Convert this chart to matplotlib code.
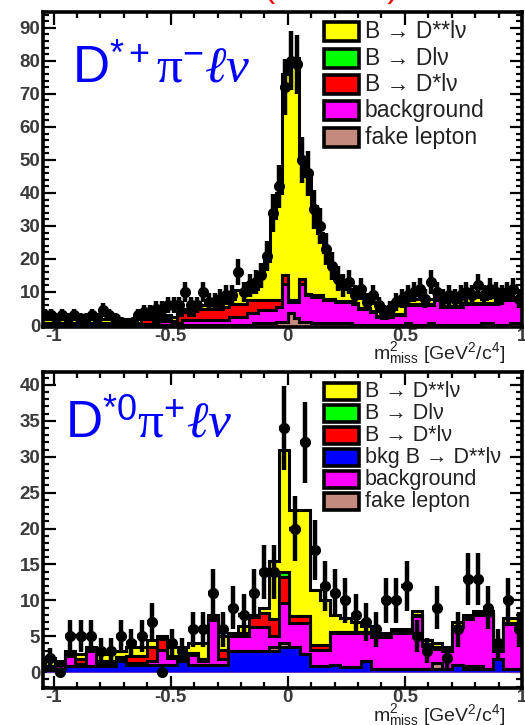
import numpy as np
import matplotlib
matplotlib.use("Agg")
import matplotlib.pyplot as plt
from matplotlib.patches import Rectangle
from matplotlib.ticker import MultipleLocator, FuncFormatter

plt.rcParams['font.family'] = ['Liberation Sans', 'DejaVu Sans']
plt.rcParams['mathtext.fontset'] = 'custom'
plt.rcParams['mathtext.rm'] = 'Liberation Sans'
plt.rcParams['mathtext.sf'] = 'Liberation Sans'
plt.rcParams['mathtext.it'] = 'Liberation Serif:italic'
plt.rcParams['mathtext.cal'] = 'Liberation Serif'

# ---------------- upper panel: D*+ pi- l nu (82 bins of 0.025) ----------------
top_edges = np.linspace(-1.05, 1.0, 83)

top_fake = [0, 0, 0, 0, 0, 0, 0, 0, 0, 0,
            0, 0, 0, 0, 0, 0, 0, 0, 0, 0,
            0, 0, 0, 0, 0, 0, 0, 0, 0, 0,
            0, 0, 0, 0, 0, 0, 0.5, 0.5, 0.5, 0.5,
            1.0, 1.0, 3.5, 2.0, 1.0, 1.0, 0.5, 0.5, 0.5, 0.5,
            0.5, 0.5, 0.5, 0, 0, 0, 0, 0, 0, 0,
            0, 0, 0.5, 0, 0, 0, 0.5, 0, 0, 0,
            0, 0, 0, 0, 0, 0.5, 0.5, 0, 0, 0,
            0.5, 0.5]

top_bkg = [0.3, 0.3, 0.3, 0.3, 0.3, 0.3, 0.3, 0.3, 0.3, 0.3,
           0.3, 0.3, 0.3, 0.3, 0.3, 0.3, 0.3, 0.3, 0.3, 1.0,
           1.2, 1.2, 0.5, 0.5, 1.5, 1.5, 1.5, 1.5, 1.5, 1.5,
           1.5, 1.5, 2.5, 2.5, 2.5, 3.5, 3.0, 4.0, 4.0, 4.0,
           4.5, 11.5, 3.5, 5.0, 11.5, 8.0, 8.0, 8.0, 7.0, 7.0,
           6.5, 6.5, 6.5, 6.5, 5.0, 5.0, 4.0, 2.5, 2.2, 2.5,
           3.0, 3.0, 5.5, 6.0, 6.0, 6.0, 5.5, 7.5, 5.5, 5.5,
           5.5, 5.5, 6.5, 6.5, 6.5, 6.0, 6.0, 6.5, 7.5, 7.5,
           7.0, 7.0]

top_dstar = [0.4, 0.4, 0.4, 0.4, 0.4, 0.4, 0.4, 0.4, 0.4, 0.4,
             0.4, 0.4, 0.4, 0.4, 0.4, 0.4, 0.4, 1.5, 1.5, 0.8,
             0.8, 0.8, 0.8, 2.5, 2.5, 1.5, 3.5, 3.5, 3.5, 3.5,
             3.5, 4.0, 4.0, 4.0, 4.0, 4.0, 4.0, 3.0, 3.0, 3.0,
             2.0, 2.5, 0.5, 0.5, 1.5, 0.5, 0.5, 0.5, 0.3, 0.3,
             0.3, 0.3, 0.3, 0.3, 0.3, 0.3, 0.3, 0.3, 0.3, 0.3,
             0.3, 0.3, 0.3, 0.3, 0.3, 0.3, 0.3, 0.3, 0.3, 0.3,
             0.3, 0.3, 0.3, 0.3, 0.3, 0.3, 0.3, 0.3, 0.3, 0.3,
             0.3, 0.3]

top_d = [0] * 82

top_dstst = [1.2, 1.2, 1.2, 1.2, 1.2, 1.2, 1.2, 1.2, 1.2, 1.2,
             1.2, 1.2, 1.2, 1.2, 1.2, 1.2, 1.2, 1.0, 1.0, 1.0,
             1.0, 1.0, 1.0, 1.0, 1.0, 1.0, 1.0, 1.0, 1.0, 1.0,
             1.0, 1.5, 1.5, 4.0, 4.0, 2.5, 3.5, 7.0, 12.0, 25.0,
             32.5, 61.0, 72.5, 73.5, 37.0, 35.5, 27.0, 19.0, 14.2, 9.7,
             7.2, 4.7, 3.7, 3.7, 4.7, 2.7, 2.7, 2.2, 1.5, 2.2,
             2.7, 3.2, 1.2, 1.7, 1.7, 1.7, 1.7, 1.2, 2.2, 2.2,
             2.2, 2.7, 1.7, 1.7, 1.7, 1.2, 1.7, 2.2, 1.2, 1.2,
             0.7, 0.7]

top_data = [3, 3, 2, 3, 2, 3, 2, 2, 3, 2,
            4.5, 3, 2, 1, 0, 1, 3, 4, 4, 5,
            5, 6, 6, 6, 10, 6, 6, 10, 7, 7,
            8, 9, 9, 16, 10, 12, 13, 15, 21, 34,
            42, 72, 80, 79, 50, 46, 35, 30, 23, 18,
            14, 12, 13, 9, 11, 7, 9, 6, 4, 5,
            7, 8, 9, 10, 11, 8, 13, 10, 8, 9,
            8, 9, 10, 9, 12, 9, 11, 10, 9, 10,
            11, 8]

# ---------------- lower panel: D*0 pi+ l nu (47 bins) ----------------
bot_edges = np.linspace(-1.037, 1.0075, 48)

bot_bkgdstst = [0.3, 0.5, 0.8, 0.8, 0.8, 0.8, 0.8, 1.5, 1.0, 1.0,
                1.0, 1.0, 1.0, 1.5, 1.0, 1.0, 1.0, 1.0, 3.0, 3.0,
                3.0, 3.0, 3.0, 3.5, 3.5, 2.5, 0.8, 0.8, 1.0, 0.7,
                0.7, 1.6, 0.5, 0.5, 0.5, 0.5, 0.5, 0.5, 0.5, 0.5,
                1.0, 0.5, 0.5, 0.5, 1.8, 0.5, 0.5]

bot_fake = [0, 0, 0, 0, 0, 0, 0, 0, 0, 0,
            0, 0, 0, 0, 0, 0, 0, 0, 0, 0,
            0, 0, 0.5, 0.5, 0, 0, 0, 0, 0, 0,
            0, 0, 0, 0, 0, 0, 0, 0, 0.8, 0,
            0, 0.4, 0.4, 0, 0, 0, 0]

bot_bkg = [0.3, 0.5, 1.5, 0.3, 2.2, 0.5, 0.5, 0.3, 0.3, 0.3,
           0.5, 2.1, 1.0, 0.5, 1.4, 0.5, 6.3, 0.8, 2.0, 2.0,
           3.3, 3.3, 1.5, 5.6, 3.3, 4.3, 2.3, 2.3, 4.4, 4.7,
           4.7, 3.8, 4.4, 4.4, 4.9, 4.9, 7.3, 3.2, 2.0, 2.5,
           5.3, 6.5, 7.0, 7.4, 1.2, 6.2, 6.2]

bot_dstar = [0.2, 0.2, 0.3, 0.8, 0.3, 0.2, 0.3, 0.3, 1.0, 1.0,
             2.0, 1.5, 0.3, 0.3, 0.3, 0.3, 0.3, 1.3, 0.3, 0.5,
             1.4, 2.0, 2.4, 3.7, 1.0, 1.0, 0.7, 0.7, 0.2, 0.2,
             0.2, 0.2, 0.2, 0.2, 0.2, 0.2, 0.2, 0.2, 0.2, 0.2,
             0.2, 0.2, 0.2, 0.2, 0.2, 0.2, 0.2]

bot_d = [0, 0, 0, 0, 0, 0, 0, 0, 0, 0,
         0, 0, 0, 0, 0, 0, 0, 0, 0, 0,
         0, 0, 0, 0.7, 0, 0, 0, 0, 0, 0,
         0, 0, 0, 0, 0, 0, 0, 0, 0, 0,
         0, 0, 0, 0, 0, 0, 0]

bot_dstst = [1.2, 0.3, 0.4, 0.6, 0.2, 1.0, 1.4, 0.9, 1.2, 1.2,
             1.0, 0.4, 1.2, 1.2, 1.3, 2.2, 0.4, 1.9, 0.2, 1.0,
             0.3, 0.7, 8.1, 17.0, 14.8, 14.8, 7.6, 6.2, 2.4, 1.9,
             1.4, 0.9, 0.4, 0.4, 0.4, 0.4, 0.5, 0.6, 0.5, 0.3,
             0.5, 0.4, 0.4, 0.4, 0.3, 0.6, 0.6]

bot_data = [2, 0, 5, 5, 5, 3, 3, 5, 4, 5,
            7, 0, 4, 3, 6, 6, 11, 6, 9, 8,
            11, 14, 14, 34, 20, 32, 17, 12, 11, 10,
            8, 7, 6, 10, 10, 12, 5, 3, 9, 2,
            6, 13, 13, 9, 4, 10, 6]

YELLOW, GREEN, RED = '#ffff00', '#00ff00', '#ff0000'
BLUE, MAGENTA, BROWN = '#0000ff', '#ff00ff', '#c48a7e'

top_labels = ['B \u2192 D**l\u03bd', 'B \u2192 Dl\u03bd', 'B \u2192 D*l\u03bd',
              'background', 'fake lepton']
top_colors = [YELLOW, GREEN, RED, MAGENTA, BROWN]
bot_labels = ['B \u2192 D**l\u03bd', 'B \u2192 Dl\u03bd', 'B \u2192 D*l\u03bd',
              'bkg B \u2192 D**l\u03bd', 'background', 'fake lepton']
bot_colors = [YELLOW, GREEN, RED, BLUE, MAGENTA, BROWN]

XLABEL = r'm$^{\mathrm{2}}_{\mathrm{miss}}$ [GeV$^{\mathrm{2}}$/c$^{\mathrm{4}}$]'


def draw_stack(ax, edges, layers, colors):
    # layers are given bottom -> top; paint cumulative tops from the highest down
    cum = np.zeros(len(edges) - 1)
    tops = []
    for vals in layers:
        cum = cum + np.asarray(vals, dtype=float)
        tops.append(cum.copy())
    for top, col in reversed(list(zip(tops, colors))):
        ax.stairs(top, edges, baseline=0, fill=True, facecolor=col,
                  edgecolor='black', linewidth=2.2, zorder=2)


def draw_data(ax, edges, data):
    centers = 0.5 * (edges[:-1] + edges[1:])
    half = 0.5 * np.diff(edges)
    data = np.asarray(data, dtype=float)
    ax.errorbar(centers, data, yerr=np.sqrt(data), xerr=half, fmt='o',
                color='black', ms=7, elinewidth=3.2, capsize=0, zorder=4)


def draw_legend(ax, labels, colors, y0, dy, box_h, fontsize):
    for i, (lab, col) in enumerate(zip(labels, colors)):
        y = y0 - i * dy
        ax.add_patch(Rectangle((0.587, y - box_h / 2), 0.073, box_h,
                               transform=ax.transAxes, facecolor=col,
                               edgecolor='black', lw=2.6, zorder=6))
        ax.text(0.672, y, lab, transform=ax.transAxes, va='center',
                ha='left', fontsize=fontsize, color='#222222', zorder=6)


def style_axes(ax, ymax_major, ymin_minor):
    ax.set_xlim(-1.045, 1.0)
    for sp in ax.spines.values():
        sp.set_linewidth(2.6)
    ax.xaxis.set_major_locator(MultipleLocator(0.5))
    ax.xaxis.set_minor_locator(MultipleLocator(0.1))
    ax.yaxis.set_major_locator(MultipleLocator(ymax_major))
    ax.yaxis.set_minor_locator(MultipleLocator(ymin_minor))
    ax.xaxis.set_major_formatter(FuncFormatter(lambda v, _: f'{v:g}'))
    ax.tick_params(which='both', direction='in', top=True, right=True,
                   width=1.6, colors='black')
    ax.tick_params(which='major', length=9)
    ax.tick_params(which='minor', length=4.5)
    ax.tick_params(axis='y', which='major', pad=2)
    ax.tick_params(axis='x', which='major', pad=1)
    for lab in ax.get_xticklabels() + ax.get_yticklabels():
        lab.set_fontsize(13.5)
        lab.set_fontweight('bold')
        lab.set_color('#3a3a3a')


fig = plt.figure(figsize=(5.25, 7.25), dpi=100)
ax1 = fig.add_axes([43 / 525, 1 - 327 / 725, 479 / 525, 315 / 725])
ax2 = fig.add_axes([43 / 525, 1 - 688 / 725, 479 / 525, 316 / 725])

# upper panel
draw_stack(ax1, top_edges, [top_fake, top_bkg, top_dstar, top_d, top_dstst],
           [BROWN, MAGENTA, RED, GREEN, YELLOW])
draw_data(ax1, top_edges, top_data)
ax1.set_ylim(-0.6, 94.8)
style_axes(ax1, 10, 2)
draw_legend(ax1, top_labels, top_colors, 0.937, 0.0835, 0.060, 16.5)
ax1.text(0.06, 0.778, r'D$^{*+}\mathcal{\pi}^{-}\ell\nu$', transform=ax1.transAxes,
         fontsize=37, color='#0000ff', va='baseline', ha='left')
ax1.text(0.689, -0.104, XLABEL, transform=ax1.transAxes, fontsize=14,
         va='baseline', ha='left', color='#222222', clip_on=False)

# lower panel
draw_stack(ax2, bot_edges,
           [bot_bkgdstst, bot_fake, bot_bkg, bot_dstar, bot_d, bot_dstst],
           [BLUE, BROWN, MAGENTA, RED, GREEN, YELLOW])
draw_data(ax2, bot_edges, bot_data)
ax2.set_ylim(-2.2, 41.8)
style_axes(ax2, 5, 1)
draw_legend(ax2, bot_labels, bot_colors, 0.938, 0.0695, 0.054, 15.5)
ax2.text(0.046, 0.794, r'D$^{*0}\mathcal{\pi}^{+}\ell\nu$', transform=ax2.transAxes,
         fontsize=37, color='#0000ff', va='baseline', ha='left')
ax2.text(0.689, -0.106, XLABEL, transform=ax2.transAxes, fontsize=14,
         va='baseline', ha='left', color='#222222', clip_on=False)

# heading running off the top edge
fig.text(0.631, 1.004, '(BABAR)', color='red', fontsize=24, ha='center',
         va='baseline')

fig.savefig('out.png', dpi=100)
